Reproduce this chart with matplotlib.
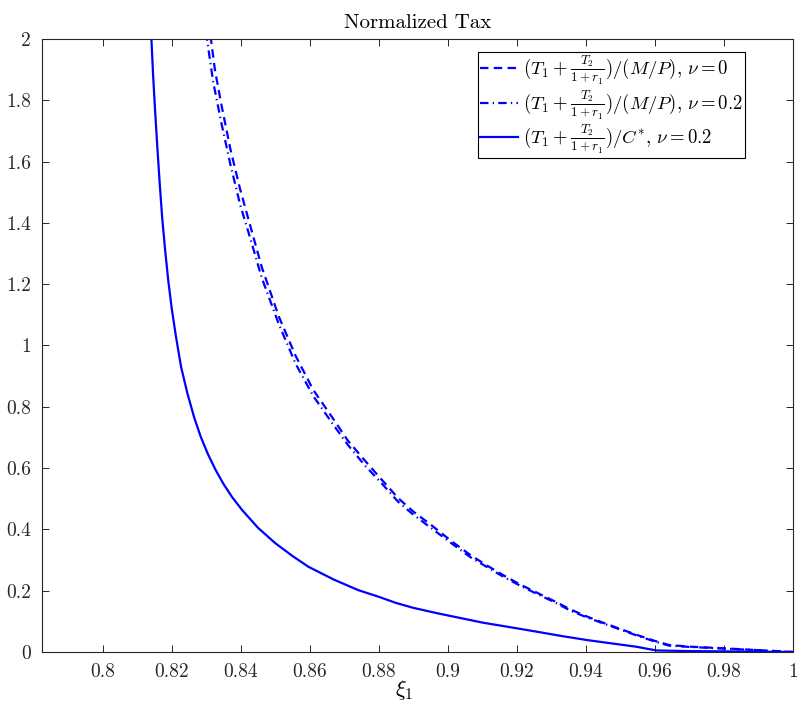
import matplotlib
matplotlib.use("Agg")
import matplotlib.pyplot as plt

plt.rcParams["font.family"] = "serif"
plt.rcParams["font.serif"] = ["cmr10"]
plt.rcParams["mathtext.fontset"] = "cm"
plt.rcParams["axes.formatter.use_mathtext"] = True

# normalized tax, nu = 0 (dashed)
xi_nu0 = [0.8300, 0.8310, 0.8325, 0.8343, 0.8370, 0.8398, 0.8430, 0.8461, 0.8510,
          0.8559, 0.8610, 0.8664, 0.8710, 0.8760, 0.8810, 0.8856, 0.8900, 0.8952,
          0.9010, 0.9067, 0.9115, 0.9163, 0.9210, 0.9259, 0.9310, 0.9355, 0.9400,
          0.9451, 0.9500, 0.9547, 0.9600, 0.9640, 0.9700, 0.9800, 0.9900, 1.0000]
tax_nu0 = [2.10, 2.03, 1.90, 1.79, 1.64, 1.51, 1.38, 1.255, 1.095,
           0.966, 0.855, 0.767, 0.690, 0.624, 0.560, 0.502, 0.458, 0.414,
           0.362, 0.315, 0.281, 0.249, 0.220, 0.193, 0.165, 0.139, 0.117,
           0.095, 0.075, 0.056, 0.036, 0.023, 0.0175, 0.012, 0.006, 0.0]

# normalized tax, nu = 0.2 (dash-dot)
xi_nu02 = [0.8290, 0.8302, 0.8320, 0.8343, 0.8370, 0.8398, 0.8430, 0.8461, 0.8510,
           0.8559, 0.8610, 0.8664, 0.8710, 0.8760, 0.8810, 0.8856, 0.8900, 0.8952,
           0.9010, 0.9067, 0.9115, 0.9163, 0.9210, 0.9259, 0.9310, 0.9355, 0.9400,
           0.9451, 0.9500, 0.9547, 0.9600, 0.9640, 0.9700, 0.9800, 0.9900, 1.0000]
tax_nu02 = [2.08, 2.00, 1.86, 1.73, 1.59, 1.46, 1.34, 1.22, 1.070,
            0.940, 0.835, 0.748, 0.676, 0.608, 0.548, 0.490, 0.448, 0.404,
            0.355, 0.308, 0.276, 0.244, 0.216, 0.189, 0.162, 0.135, 0.114,
            0.093, 0.073, 0.054, 0.034, 0.021, 0.0165, 0.011, 0.006, 0.0]

# tax relative to consumption, nu = 0.2 (solid)
xi_c = [0.8138, 0.8141, 0.8146, 0.8152, 0.8158, 0.8165, 0.8172, 0.8180, 0.8190,
        0.8200, 0.8212, 0.8227, 0.8245, 0.8265, 0.8284, 0.8305, 0.8327, 0.8350,
        0.8375, 0.8404, 0.8450, 0.8500, 0.8550, 0.8596, 0.8670, 0.8740, 0.8800,
        0.8850, 0.8900, 0.8971, 0.9040, 0.9100, 0.9180, 0.9259, 0.9330, 0.9403,
        0.9475, 0.9547, 0.9580, 0.9605, 0.9650, 0.9700, 0.9800, 0.9900, 1.0000]
tax_c = [2.06, 2.00, 1.88, 1.76, 1.65, 1.53, 1.42, 1.32, 1.21,
         1.12, 1.03, 0.93, 0.845, 0.765, 0.702, 0.645, 0.594, 0.548,
         0.505, 0.463, 0.405, 0.355, 0.313, 0.278, 0.236, 0.202, 0.180,
         0.160, 0.144, 0.126, 0.110, 0.096, 0.081, 0.066, 0.052, 0.039,
         0.028, 0.017, 0.010, 0.005, 0.004, 0.003, 0.002, 0.001, 0.0]

labels = [r"$(T_1+\frac{T_2}{1+r_1})/(M/P)$, $\nu=0$",
          r"$(T_1+\frac{T_2}{1+r_1})/(M/P)$, $\nu=0.2$",
          r"$(T_1+\frac{T_2}{1+r_1})/C^{*}$, $\nu=0.2$"]

x_ticks = [0.80, 0.82, 0.84, 0.86, 0.88, 0.90, 0.92, 0.94, 0.96, 0.98, 1.00]
x_tick_labels = ["0.8", "0.82", "0.84", "0.86", "0.88", "0.9", "0.92", "0.94", "0.96", "0.98", "1"]
y_ticks = [0, 0.2, 0.4, 0.6, 0.8, 1.0, 1.2, 1.4, 1.6, 1.8, 2.0]
y_tick_labels = ["0", "0.2", "0.4", "0.6", "0.8", "1", "1.2", "1.4", "1.6", "1.8", "2"]

fig = plt.figure(figsize=(8.0, 7.09), dpi=100)
ax = fig.add_axes([0.0525, 0.0804, 0.93875, 0.8646])

blue = (0, 0, 1)
ax.plot(xi_nu0, tax_nu0, color=blue, lw=1.6, linestyle=(0, (3.8, 2.4)), label=labels[0])
ax.plot(xi_nu02, tax_nu02, color=blue, lw=1.6, linestyle=(0, (3.8, 1.9, 0.6, 1.9)), label=labels[1])
ax.plot(xi_c, tax_c, color=blue, lw=1.6, linestyle="-", label=labels[2])

ax.set_xlim(0.7824, 1.0)
ax.set_ylim(0, 2)
ax.set_xticks(x_ticks)
ax.set_xticklabels(x_tick_labels)
ax.set_yticks(y_ticks)
ax.set_yticklabels(y_tick_labels)

axis_color = "#262626"
for s in ax.spines.values():
    s.set_color(axis_color)
    s.set_linewidth(0.8)
ax.tick_params(direction="in", length=5, width=0.7, colors=axis_color,
               labelcolor=axis_color, labelsize=14, top=True, right=True, pad=8)

ax.set_title("Normalized Tax", fontsize=15, color="black", pad=8)
ax.set_xlabel(r"$\xi_1$", fontsize=16)
ax.xaxis.set_label_coords(0.482, -0.042)

leg = ax.legend(loc="upper right", bbox_to_anchor=(0.936, 0.979), borderaxespad=0,
                fontsize=13.5, frameon=True, fancybox=False, framealpha=1,
                edgecolor="black", handlelength=2.0, handletextpad=0.3,
                labelspacing=0.03, borderpad=0.1)
leg.get_frame().set_linewidth(0.8)

fig.savefig("out.png", dpi=100)
